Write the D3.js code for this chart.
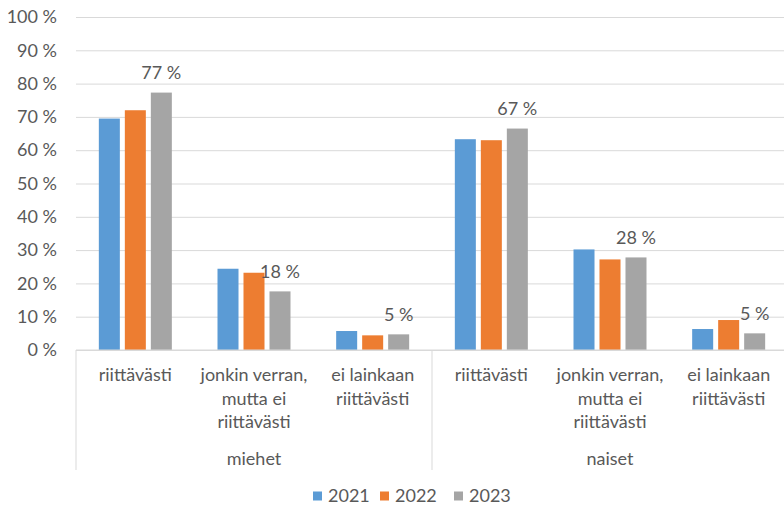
<!DOCTYPE html>
<html>
<head>
<meta charset="utf-8">
<script src="https://cdn.jsdelivr.net/npm/d3@7"></script>
<style>
  body { margin: 0; background: #fff; }
  text { font-family: Lato, "Liberation Sans", Arial, sans-serif; fill: #595959; }
</style>
</head>
<body>
<svg width="784" height="506"></svg>
<script>
// data
const groups = ["miehet", "naiset"];
const categories = ["riittävästi", "jonkin verran, mutta ei riittävästi", "ei lainkaan riittävästi"];
const categoryLines = [["riittävästi"], ["jonkin verran,", "mutta ei", "riittävästi"], ["ei lainkaan", "riittävästi"]];
const years = ["2021", "2022", "2023"];
// values per year, order: miehet x3 categories, naiset x3 categories
const v2021 = [69.5, 24.4, 5.7, 63.3, 30.2, 6.3];
const v2022 = [72.0, 23.2, 4.4, 63.0, 27.2, 9.0];
const v2023 = [77.3, 17.6, 4.7, 66.5, 27.8, 5.0];
const yTicks = [0, 10, 20, 30, 40, 50, 60, 70, 80, 90, 100];
const colors = ["#5b9bd5", "#ed7d31", "#a5a5a5"];
const labelledYear = "2023";

const series = [v2021, v2022, v2023];
const rows = [];
groups.forEach((g, gi) => {
  categories.forEach((c, ci) => {
    years.forEach((yr, si) => {
      rows.push({ group: g, cat: c, ci: ci, year: yr, value: series[si][gi * 3 + ci] });
    });
  });
});

const fs = 18;
const svg = d3.select("svg");
const plotLeft = 76, plotRight = 788, plotTop = 17, plotBottom = 350;

const y = d3.scaleLinear().domain([0, 100]).range([plotBottom, plotTop]);

const xGroup = d3.scaleBand().domain(groups).range([plotLeft, plotRight]);
const xCat = d3.scaleBand().domain(categories).range([0, xGroup.bandwidth()]);
const xYear = d3.scaleBand().domain(years).range([-36.5, 36.5]).paddingInner(0.192);

// gridlines + y labels
const yAxis = d3.axisLeft(y)
  .tickValues(yTicks)
  .tickSize(-(plotRight - plotLeft))
  .tickPadding(19)
  .tickFormat(d => d + " %");

const gy = svg.append("g")
  .attr("transform", `translate(${plotLeft},0)`)
  .call(yAxis);
gy.select(".domain").remove();
gy.selectAll(".tick line").attr("stroke", "#d9d9d9").attr("stroke-width", 1);
gy.selectAll(".tick text")
  .attr("font-size", fs)
  .attr("fill", "#595959")
  .style("font-family", "Lato, 'Liberation Sans', Arial, sans-serif");

// bars
const catCenter = d => xGroup(d.group) + xCat(d.cat) + xCat.bandwidth() / 2;

svg.append("g")
  .selectAll("rect")
  .data(rows)
  .join("rect")
  .attr("x", d => catCenter(d) + xYear(d.year))
  .attr("y", d => y(d.value))
  .attr("width", xYear.bandwidth())
  .attr("height", d => y(0) - y(d.value))
  .attr("fill", d => colors[years.indexOf(d.year)]);

// data labels (only 2023)
svg.append("g")
  .selectAll("text")
  .data(rows.filter(d => d.year === labelledYear))
  .join("text")
  .attr("x", d => catCenter(d) + xYear(d.year) + xYear.bandwidth() / 2)
  .attr("y", d => y(d.value) - 20)
  .attr("dy", "0.35em")
  .attr("text-anchor", "middle")
  .attr("font-size", fs)
  .text(d => d3.format(".0f")(d.value) + " %");

// category axis lines
const axisG = svg.append("g");
axisG.append("line")
  .attr("x1", plotLeft).attr("x2", plotRight)
  .attr("y1", y(0)).attr("y2", y(0))
  .attr("stroke", "#d9d9d9");
const dividers = groups.map(g => xGroup(g)).concat([plotRight]);
axisG.selectAll("line.div")
  .data(dividers)
  .join("line")
  .attr("class", "div")
  .attr("x1", d => d).attr("x2", d => d)
  .attr("y1", y(0)).attr("y2", 470)
  .attr("stroke", "#d9d9d9");

// category labels
groups.forEach(g => {
  categories.forEach((c, ci) => {
    const cx = xGroup(g) + xCat(c) + xCat.bandwidth() / 2;
    const t = svg.append("text")
      .attr("text-anchor", "middle")
      .attr("font-size", fs)
      .attr("x", cx);
    categoryLines[ci].forEach((line, li) => {
      t.append("tspan")
        .attr("x", cx)
        .attr("y", 375 + li * 23.5)
        .attr("dy", "0.35em")
        .text(line);
    });
  });
  svg.append("text")
    .attr("text-anchor", "middle")
    .attr("font-size", fs)
    .attr("x", xGroup(g) + xGroup.bandwidth() / 2)
    .attr("y", 458.5)
    .attr("dy", "0.35em")
    .text(g);
});

// legend
const legendX = [313, 380, 454];
const legend = svg.append("g")
  .selectAll("g")
  .data(years)
  .join("g")
  .attr("transform", (d, i) => `translate(${legendX[i]},496)`);
legend.append("rect")
  .attr("x", 0).attr("y", -4.5)
  .attr("width", 9).attr("height", 9)
  .attr("fill", (d, i) => colors[i]);
legend.append("text")
  .attr("x", 15)
  .attr("dy", "0.35em")
  .attr("font-size", fs)
  .text(d => d);
</script>
</body>
</html>
